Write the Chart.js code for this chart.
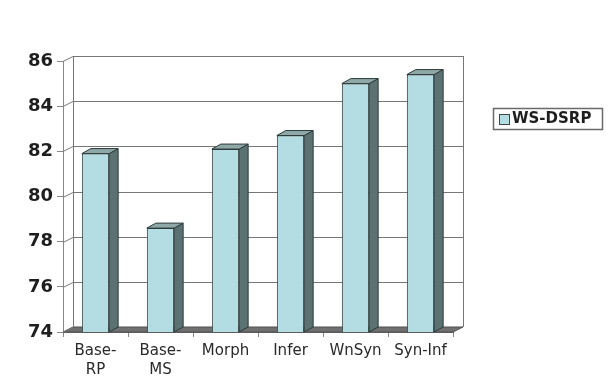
<!DOCTYPE html>
<html>
<head>
<meta charset="utf-8">
<script src="https://cdn.jsdelivr.net/npm/chart.js@4.4.1/dist/chart.umd.min.js"></script>
<style>
  html, body { margin: 0; padding: 0; background: #ffffff; }
  #wrap { width: 613px; height: 378px; position: relative; }
</style>
</head>
<body>
<div id="wrap"><canvas id="c" width="613" height="378"></canvas></div>
<script>
// Systems compared and their WS-DSRP scores
const categories = [["Base-", "RP"], ["Base-", "MS"], "Morph", "Infer", "WnSyn", "Syn-Inf"];
const seriesName = "WS-DSRP";
const wsDsrp = [81.9, 78.6, 82.1, 82.7, 85.0, 85.4];
const yTicks = [74, 76, 78, 80, 82, 84, 86];

const FACE = "#b3dde2";
const SIDE = "#5b7172";
const TOP = "#8ea8a8";
const EDGE = "#2e3b3b";
const WALL_DX = 10, WALL_DY = -5;   // depth of the back wall
const BAR_DX = 9, BAR_DY = -5;      // depth of each column

// Back wall, side wall, floor and gridlines drawn in perspective
const depthFrame = {
  id: "depthFrame",
  beforeDatasetsDraw(chart) {
    const { ctx, chartArea: a, scales } = chart;
    const ys = scales.y;
    ctx.save();
    ctx.lineWidth = 1;
    // floor
    ctx.beginPath();
    ctx.moveTo(a.left, a.bottom);
    ctx.lineTo(a.right, a.bottom);
    ctx.lineTo(a.right + WALL_DX, a.bottom + WALL_DY);
    ctx.lineTo(a.left + WALL_DX, a.bottom + WALL_DY);
    ctx.closePath();
    ctx.fillStyle = "#707070";
    ctx.fill();
    ctx.strokeStyle = "#505050";
    ctx.stroke();
    // gridlines on side and back wall
    ctx.strokeStyle = "#777777";
    yTicks.forEach(v => {
      const y = Math.round(ys.getPixelForValue(v)) + 0.5;
      ctx.beginPath();
      ctx.moveTo(a.left, y);
      ctx.lineTo(a.left + WALL_DX, y + WALL_DY);
      if (v !== yTicks[0]) ctx.lineTo(a.right + WALL_DX, y + WALL_DY);
      ctx.stroke();
    });
    // wall edges
    const top = Math.round(ys.getPixelForValue(yTicks[yTicks.length - 1])) + WALL_DY;
    const bot = Math.round(ys.getPixelForValue(yTicks[0])) + WALL_DY;
    ctx.beginPath();
    ctx.moveTo(a.left + WALL_DX + 0.5, top);
    ctx.lineTo(a.left + WALL_DX + 0.5, bot);
    ctx.moveTo(a.right + WALL_DX + 0.5, top);
    ctx.lineTo(a.right + WALL_DX + 0.5, bot);
    ctx.stroke();
    ctx.restore();
  },
  afterDatasetsDraw(chart) {
    const { ctx, scales } = chart;
    const floor = scales.y.getPixelForValue(scales.y.min);
    const meta = chart.getDatasetMeta(0);
    ctx.save();
    ctx.lineWidth = 1;
    ctx.strokeStyle = EDGE;
    meta.data.forEach(bar => {
      const { x, y, width } = bar.getProps(["x", "y", "width"], true);
      const base = floor;
      const l = x - width / 2, r = x + width / 2;
      // right side face
      ctx.beginPath();
      ctx.moveTo(r, y);
      ctx.lineTo(r + BAR_DX, y + BAR_DY);
      ctx.lineTo(r + BAR_DX, base + BAR_DY);
      ctx.lineTo(r, base);
      ctx.closePath();
      ctx.fillStyle = SIDE;
      ctx.fill();
      ctx.stroke();
      // top face
      ctx.beginPath();
      ctx.moveTo(l, y);
      ctx.lineTo(l + BAR_DX, y + BAR_DY);
      ctx.lineTo(r + BAR_DX, y + BAR_DY);
      ctx.lineTo(r, y);
      ctx.closePath();
      ctx.fillStyle = TOP;
      ctx.fill();
      ctx.stroke();
    });
    ctx.restore();
  },
  afterDraw(chart) {
    // framed legend at the right
    const { ctx } = chart;
    const ds = chart.data.datasets[0];
    ctx.save();
    ctx.fillStyle = "#ffffff";
    ctx.fillRect(493.5, 108.5, 109, 21);
    ctx.strokeStyle = "#6a6a6a";
    ctx.lineWidth = 1.5;
    ctx.strokeRect(493.5, 108.5, 109, 21);
    ctx.lineWidth = 1;
    ctx.fillStyle = ds.backgroundColor;
    ctx.fillRect(499.5, 114.5, 10, 10);
    ctx.strokeStyle = "#444";
    ctx.strokeRect(499.5, 114.5, 10, 10);
    ctx.fillStyle = "#1e1e1e";
    ctx.font = "bold 15px 'DejaVu Sans'";
    ctx.textBaseline = "middle";
    ctx.fillText(ds.label, 512, 119.5);
    ctx.restore();
  }
};

new Chart(document.getElementById("c"), {
  type: "bar",
  data: {
    labels: categories,
    datasets: [{
      label: seriesName,
      data: wsDsrp,
      backgroundColor: FACE,
      borderColor: EDGE,
      borderWidth: 1,
      barPercentage: 0.42,
      categoryPercentage: 1.0
    }]
  },
  options: {
    responsive: false,
    animation: false,
    layout: { padding: { left: 0, top: 61, right: 160, bottom: 0 } },
    plugins: { legend: { display: false }, tooltip: { enabled: false } },
    scales: {
      x: {
        offset: true,
        grid: { display: true, drawOnChartArea: false, tickLength: 5, color: "#888888", offset: true },
        border: { display: true, color: "#666666" },
        ticks: { color: "#2a2a2a", padding: 4, font: { family: "DejaVu Sans", size: 15, lineHeight: 1.3 } },
        afterFit(s) { s.height = 46; }
      },
      y: {
        min: 74, max: 86,
        afterBuildTicks(s) { s.ticks = yTicks.map(v => ({ value: v })); },
        grid: { display: true, drawOnChartArea: false, tickLength: 6, color: "#888888" },
        border: { display: true, color: "#888888" },
        ticks: { color: "#1e1e1e", padding: 4, font: { family: "DejaVu Sans", size: 18, weight: "bold" } },
        afterFit(s) { s.width = 63; }
      }
    }
  },
  plugins: [depthFrame]
});
</script>
</body>
</html>
